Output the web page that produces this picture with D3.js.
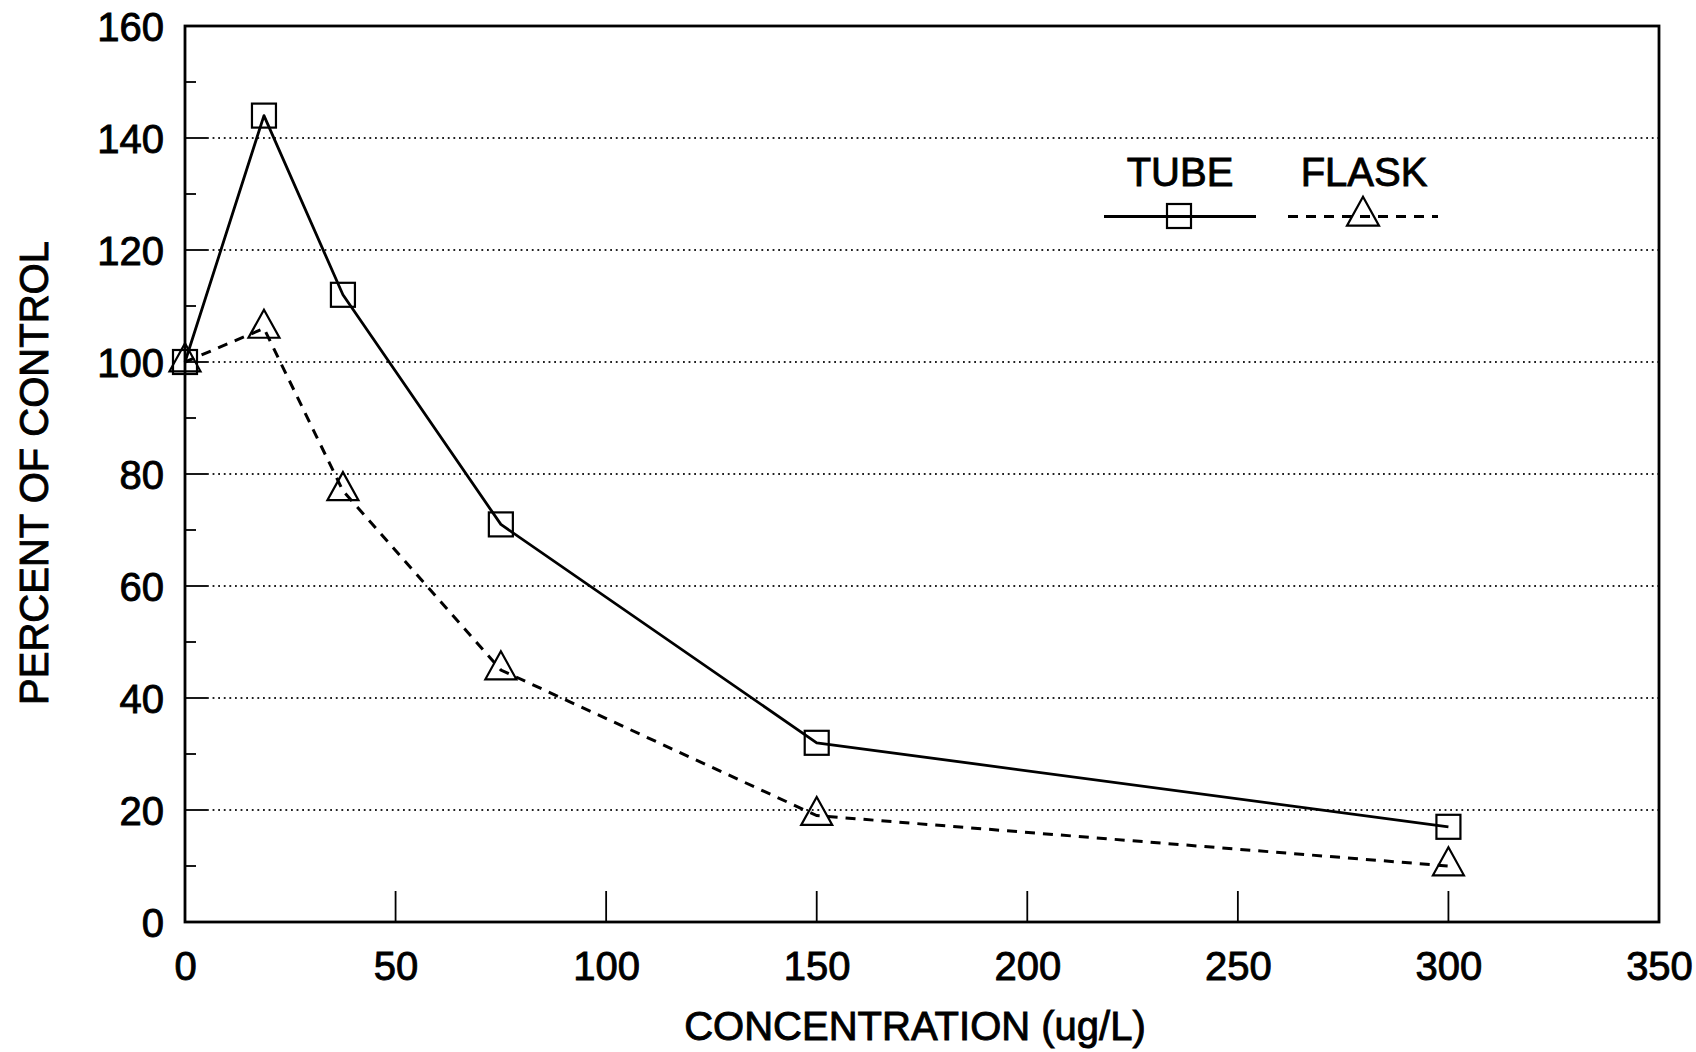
<!DOCTYPE html>
<html>
<head>
<meta charset="utf-8">
<script src="https://cdn.jsdelivr.net/npm/d3@7"></script>
<style>
  html, body { margin: 0; padding: 0; background: #fff; }
  svg { display: block; }
  text { font-family: "Liberation Sans", Arial, Helvetica, sans-serif; fill: #000; stroke: #000; stroke-width: 0.9px; }
</style>
</head>
<body>
<script>
// ---- data ----
const concentrations = [0, 18.75, 37.5, 75, 150, 300];
const tubeValues = [100, 144, 112, 71, 32, 17];
const flaskValues = [100, 106, 77, 45, 19, 10];
const xTickValues = [0, 50, 100, 150, 200, 250, 300, 350];
const yTickValues = [0, 20, 40, 60, 80, 100, 120, 140, 160];
const yMinorTicks = [10, 30, 50, 70, 90, 110, 130, 150];
const seriesNames = ["TUBE", "FLASK"];
const xTitle = "CONCENTRATION (ug/L)";
const yTitle = "PERCENT OF CONTROL";

const W = 1696, H = 1052;
const L = 185, R = 1659, T = 26, B = 922;

const svg = d3.select("body").append("svg").attr("width", W).attr("height", H);

const x = d3.scaleLinear().domain([0, 350]).range([L, R]);
const y = d3.scaleLinear().domain([0, 160]).range([B, T]);

// gridlines (dotted)
svg.append("g").selectAll("line")
  .data(yTickValues.filter(v => v > 0 && v < 160))
  .join("line")
  .attr("x1", L + 22).attr("x2", R)
  .attr("y1", d => y(d)).attr("y2", d => y(d))
  .attr("stroke", "#222").attr("stroke-width", 1.8)
  .attr("stroke-dasharray", "1.8,3.8");

// y axis major ticks & labels
const yAxis = d3.axisLeft(y).tickValues(yTickValues).tickSize(0).tickPadding(21).tickFormat(d3.format("d"));
const gy = svg.append("g").attr("transform", `translate(${L},0)`).call(yAxis);
gy.select(".domain").remove();
gy.selectAll("text").attr("font-size", 40).attr("font-family", "Liberation Sans, Arial, sans-serif").attr("fill", "#000").attr("dy", "0.36em");

svg.append("g").selectAll("line")
  .data(yTickValues.filter(v => v > 0 && v < 160))
  .join("line")
  .attr("x1", L).attr("x2", L + 22)
  .attr("y1", d => y(d)).attr("y2", d => y(d))
  .attr("stroke", "#000").attr("stroke-width", 1.8);

svg.append("g").selectAll("line")
  .data(yMinorTicks)
  .join("line")
  .attr("x1", L).attr("x2", L + 11)
  .attr("y1", d => y(d)).attr("y2", d => y(d))
  .attr("stroke", "#000").attr("stroke-width", 1.8);

// x axis ticks & labels
const xAxis = d3.axisBottom(x).tickValues(xTickValues).tickSize(0).tickPadding(30).tickFormat(d3.format("d"));
const gx = svg.append("g").attr("transform", `translate(0,${B})`).call(xAxis);
gx.select(".domain").remove();
gx.selectAll("text").attr("font-size", 40).attr("font-family", "Liberation Sans, Arial, sans-serif").attr("fill", "#000").attr("dy", "0.71em");

svg.append("g").selectAll("line")
  .data(xTickValues.filter(v => v > 0 && v < 350))
  .join("line")
  .attr("x1", d => x(d)).attr("x2", d => x(d))
  .attr("y1", B).attr("y2", B - 31)
  .attr("stroke", "#000").attr("stroke-width", 1.8);

// frame
svg.append("rect").attr("x", L).attr("y", T).attr("width", R - L).attr("height", B - T)
  .attr("fill", "none").attr("stroke", "#000").attr("stroke-width", 2.8);

// lines
const line = d3.line().x(d => x(d[0])).y(d => y(d[1]));
const tubePts = concentrations.map((c, i) => [c, tubeValues[i]]);
const flaskPts = concentrations.map((c, i) => [c, flaskValues[i]]);

svg.append("path").attr("d", line(tubePts)).attr("fill", "none")
  .attr("stroke", "#000").attr("stroke-width", 2.8).attr("stroke-linejoin", "round");
svg.append("path").attr("d", line(flaskPts)).attr("fill", "none")
  .attr("stroke", "#000").attr("stroke-width", 3).attr("stroke-dasharray", "10,8");

// markers
const sq = 24;
function square(g, cx, cy, s) {
  g.append("rect").attr("x", cx - s / 2).attr("y", cy - s / 2).attr("width", s).attr("height", s)
    .attr("fill", "none").attr("stroke", "#000").attr("stroke-width", 2.2);
}
function triangle(g, cx, cy, w, h) {
  // centroid at (cx, cy)
  const top = cy - 2 * h / 3, bot = cy + h / 3;
  g.append("path").attr("d", `M${cx},${top}L${cx + w / 2},${bot}L${cx - w / 2},${bot}Z`)
    .attr("fill", "none").attr("stroke", "#000").attr("stroke-width", 2.2).attr("stroke-linejoin", "miter");
}
const mk = svg.append("g");
tubePts.forEach(p => square(mk, x(p[0]), y(p[1]), sq));
flaskPts.forEach(p => triangle(mk, x(p[0]), y(p[1]), 31, 28));

// legend
const lg = svg.append("g");
lg.append("text").attr("x", 1180).attr("y", 186).attr("text-anchor", "middle").attr("font-size", 40).text(seriesNames[0]);
lg.append("text").attr("x", 1364).attr("y", 186).attr("text-anchor", "middle").attr("font-size", 40).text(seriesNames[1]);
lg.append("line").attr("x1", 1104).attr("x2", 1256).attr("y1", 216.5).attr("y2", 216.5)
  .attr("stroke", "#000").attr("stroke-width", 2.8);
square(lg, 1179, 216, 24);
lg.append("line").attr("x1", 1288).attr("x2", 1438).attr("y1", 216.5).attr("y2", 216.5)
  .attr("stroke", "#000").attr("stroke-width", 3).attr("stroke-dasharray", "10,8");
triangle(lg, 1363, 216, 32, 29);

// axis titles
svg.append("text").attr("x", 915).attr("y", 1040).attr("text-anchor", "middle").attr("font-size", 40).text(xTitle);
svg.append("text").attr("transform", "translate(48,473) rotate(-90)").attr("text-anchor", "middle").attr("font-size", 40).text(yTitle);
</script>
</body>
</html>
